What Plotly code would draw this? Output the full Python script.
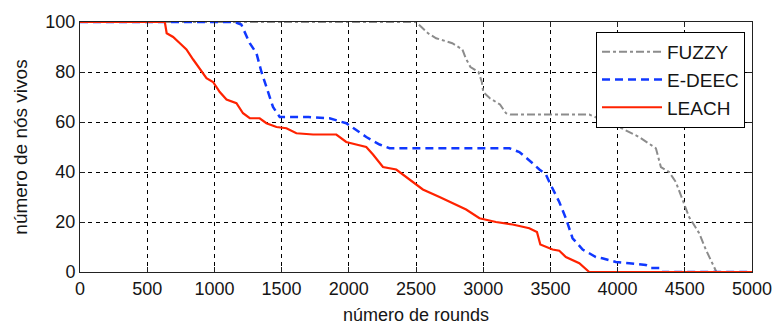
import plotly.graph_objects as go

# ---- data ----
fuzzy_x = [0, 2500, 2540, 2590, 2650, 2710, 2770, 2845, 2870, 2905, 2965, 2990, 3000, 3050,
           3125, 3170, 3200, 3789, 4012, 4160, 4285, 4322, 4383, 4433, 4483, 4532, 4607,
           4656, 4718, 4735, 5000]
fuzzy_y = [100, 100, 98, 95.5, 93.5, 92.5, 91.5, 89, 85.5, 82, 80, 76, 72, 69.5,
           67, 63.5, 63, 63, 58, 54, 49.5, 42, 40, 36, 29, 22, 15.5,
           9, 2, 0, 0]

edeec_x = [0, 1150, 1200, 1239, 1263, 1313, 1350, 1387, 1436, 1486, 1700, 1857, 1981, 2050,
           2130, 2229, 2303, 3195, 3269, 3368, 3418, 3467, 3492, 3566, 3615, 3665, 3740,
           3789, 3838, 3886, 3987, 4086, 4210, 4248, 4322, 4330, 5000]
edeec_y = [100, 100, 99, 94, 91.5, 87.5, 80, 74, 66, 62, 62, 61.5, 59.5, 57,
           54, 51, 49.5, 49.5, 48, 43.5, 41, 39, 36, 28, 21.5, 13.5, 9,
           7.5, 6, 5.5, 4, 3.5, 2.8, 1.6, 1.6, 0, 0]

leach_x = [0, 631, 645, 693, 743, 792, 842, 892, 941, 990, 1040, 1090, 1164, 1213, 1263,
           1337, 1387, 1462, 1536, 1610, 1734, 1907, 1981, 2055, 2130, 2180, 2254, 2353,
           2452, 2551, 2675, 2799, 2873, 2972, 3095, 3219, 3343, 3400, 3425, 3516, 3566,
           3615, 3715, 3789, 5000]
leach_y = [100, 100, 95.5, 94, 91.5, 89, 85, 81, 77.5, 76, 72, 69, 67.5, 63.5, 61.5,
           61.5, 59.5, 58, 57.5, 55.5, 55, 55, 52, 51, 50, 47, 42, 41,
           37, 33, 30, 27, 25, 21.5, 20, 19, 17.5, 16, 11, 9, 8.5,
           6, 3.5, 0, 0]

x_ticks = [0, 500, 1000, 1500, 2000, 2500, 3000, 3500, 4000, 4500, 5000]
y_ticks = [0, 20, 40, 60, 80, 100]

FONT = "Liberation Sans, Arial, sans-serif"
TXT = "#151515"

fig = go.Figure()
fig.add_trace(go.Scatter(x=fuzzy_x, y=fuzzy_y, mode="lines", name="FUZZY",
                         line=dict(color="#8c8c8c", width=2, dash="8px,3px,3px,3px")))
fig.add_trace(go.Scatter(x=edeec_x, y=edeec_y, mode="lines", name="E-DEEC",
                         line=dict(color="#1038ff", width=2.5, dash="8px,5px")))
fig.add_trace(go.Scatter(x=leach_x, y=leach_y, mode="lines", name="LEACH",
                         line=dict(color="#ff2200", width=2.2)))

axis_common = dict(
    showline=True, linecolor="#222222", linewidth=1, mirror="ticks",
    ticks="inside", ticklen=5, tickcolor="#222222",
    showgrid=True, gridcolor="#000000", gridwidth=1, griddash="4px,4px",
    zeroline=False, automargin=False,
    tickfont=dict(family=FONT, size=18, color=TXT),
)

fig.update_xaxes(range=[0, 5000], tickvals=x_ticks, ticktext=[str(v) for v in x_ticks],
                 title=dict(text="número de rounds", font=dict(family=FONT, size=18, color=TXT),
                            standoff=11),
                 **axis_common)
fig.update_yaxes(range=[0, 100], tickvals=y_ticks, ticktext=[str(v) for v in y_ticks],
                 title=dict(text="número de nós vivos", font=dict(family=FONT, size=19, color=TXT),
                            standoff=12),
                 **axis_common)

fig.update_layout(
    width=774, height=325,
    margin=dict(l=80, r=22, t=22, b=53),
    paper_bgcolor="white", plot_bgcolor="white",
    showlegend=True,
    legend=dict(x=0.9896, y=0.96, xanchor="right", yanchor="top",
                bgcolor="white", bordercolor="#000000", borderwidth=1,
                font=dict(family=FONT, size=19, color=TXT),
                itemwidth=60, tracegroupgap=0),
)

fig.write_html("out.html")
